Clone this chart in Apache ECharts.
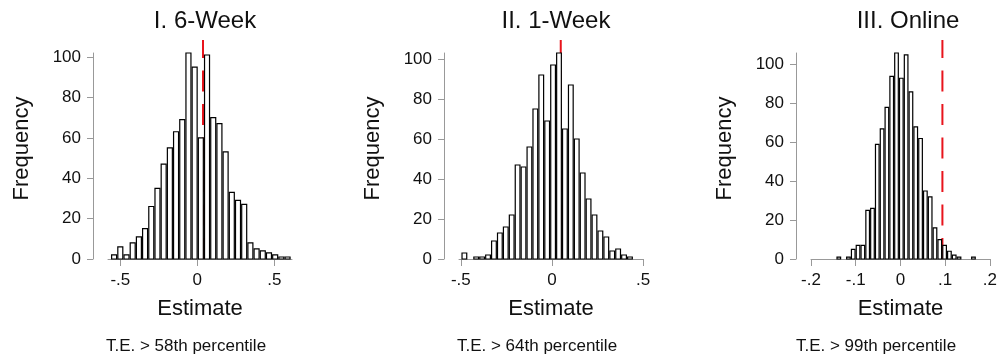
<!DOCTYPE html>
<html>
<head>
<meta charset="utf-8">
<script src="https://cdn.jsdelivr.net/npm/echarts@6/dist/echarts.min.js"></script>
<style>
html,body{margin:0;padding:0;background:#fff}
#root{width:1000px;height:358px}
</style>
</head>
<body>
<div id="root"></div>
<script>
// panel texts
const titles = ['I. 6-Week', 'II. 1-Week', 'III. Online'];
const notes = ['T.E. > 58th percentile', 'T.E. > 64th percentile', 'T.E. > 99th percentile'];

// histogram bins: first edge, width, counts
const binStart = [-0.5604, -0.4967, -0.1432];
const binWidth = [0.04023, 0.03246, 0.01075];
const freq6Week = [2, 6, 2, 8, 11, 15, 26, 35, 47, 55, 63, 69, 102, 95, 60, 101, 70, 67, 53, 33, 29, 27, 8, 5, 4, 3, 2, 1, 1];
const freq1Week = [3, 0, 1, 1, 2, 9, 13, 16, 22, 47, 46, 56, 75, 92, 69, 97, 103, 65, 87, 60, 43, 30, 22, 14, 11, 4, 5, 2, 1];
const freqOnline = [1, 0, 1, 5, 7, 7, 25, 26, 59, 67, 78, 94, 106, 93, 105, 86, 68, 62, 35, 32, 16, 10, 7, 4, 2, 1, 0, 0, 1];
const freqs = [freq6Week, freq1Week, freqOnline];

// actual estimate (red dashed line)
const actualTE = [0.037, 0.0485, 0.0938];

// axes
const xMin = [-0.58, -0.51, -0.2];
const xMax = [0.615, 0.5, 0.2];
const xTicks = [[-0.5, 0, 0.5], [-0.5, 0, 0.5], [-0.2, -0.1, 0, 0.1, 0.2]];
const yMax = [102, 103, 106];
const yTicks = [0, 20, 40, 60, 80, 100];

const gridLeft = [108, 459, 811];
const FONT = 'Liberation Sans, Arial, sans-serif';
const AXIS_GRAY = '#999';
const TEXT = '#111';

let chart = echarts.init(document.getElementById('root'));

let grid = [], xAxis = [], yAxis = [], series = [], title = [];

for (let k = 0; k < 3; k++) {
    grid.push({left: gridLeft[k], top: 53, width: 184, height: 206});
    xAxis.push({
        type: 'value', gridIndex: k, min: xMin[k], max: xMax[k],
        name: 'Estimate', nameLocation: 'middle', nameGap: 39,
        nameTextStyle: {fontFamily: FONT, fontSize: 22, color: TEXT},
        splitLine: {show: false},
        axisLine: {show: true, onZero: false, lineStyle: {color: AXIS_GRAY, width: 1}},
        axisTick: {show: true, length: 7, customValues: xTicks[k], lineStyle: {color: AXIS_GRAY}},
        axisLabel: {
            customValues: xTicks[k], margin: 13, fontFamily: FONT, fontSize: 17, color: TEXT,
            formatter: v => v === 0 ? '0' : String(v).replace('0.', '.')
        }
    });
    yAxis.push({
        type: 'value', gridIndex: k, min: 0, max: yMax[k], offset: 15,
        name: 'Frequency', nameLocation: 'middle', nameGap: 60,
        nameTextStyle: {fontFamily: FONT, fontSize: 22, color: TEXT, padding: [0, 0, 0, 15]},
        splitLine: {show: false},
        axisLine: {show: true, onZero: false, lineStyle: {color: AXIS_GRAY, width: 1}},
        axisTick: {show: true, length: 6, customValues: yTicks, lineStyle: {color: AXIS_GRAY}},
        axisLabel: {customValues: yTicks, margin: 12, fontFamily: FONT, fontSize: 17, color: TEXT}
    });

    // red dashed line, drawn under the bars, dashes counted from the bottom
    series.push({
        type: 'custom', xAxisIndex: k, yAxisIndex: k, z: 2, clip: false,
        data: [[actualTE[k]]],
        renderItem: (params, api) => {
            const b = api.coord([api.value(0), 0]);
            const topY = params.coordSys.y - 13;
            return {
                type: 'line',
                shape: {x1: b[0], y1: b[1], x2: b[0], y2: topY},
                style: {stroke: '#e8141c', lineWidth: 2, lineDash: [21, 12.5]}
            };
        }
    });

    // histogram bars
    series.push({
        type: 'custom', xAxisIndex: k, yAxisIndex: k, z: 3,
        data: freqs[k].map((f, i) => [binStart[k] + i * binWidth[k], binStart[k] + (i + 1) * binWidth[k], f]),
        renderItem: (params, api) => {
            if (!api.value(2)) return null;
            const p0 = api.coord([api.value(0), api.value(2)]);
            const p1 = api.coord([api.value(1), 0]);
            return {
                type: 'rect',
                shape: {x: p0[0] + 0.6, y: p0[1], width: p1[0] - p0[0] - 1.2, height: p1[1] - p0[1]},
                style: {fill: '#fff', stroke: '#000', lineWidth: 1.2}
            };
        }
    });

    const cx = gridLeft[k] + 92;
    title.push({
        text: titles[k], left: cx, top: 4, textAlign: 'center',
        textStyle: {fontFamily: FONT, fontSize: 24, fontWeight: 'normal', color: TEXT}
    });
    title.push({
        text: notes[k], left: cx - (k === 2 ? 32 : 19), top: 333, textAlign: 'center',
        textStyle: {fontFamily: FONT, fontSize: 17, fontWeight: 'normal', color: TEXT}
    });
}

chart.setOption({
    animation: false,
    backgroundColor: '#fff',
    title: title,
    grid: grid,
    xAxis: xAxis,
    yAxis: yAxis,
    series: series
});
</script>
</body>
</html>
